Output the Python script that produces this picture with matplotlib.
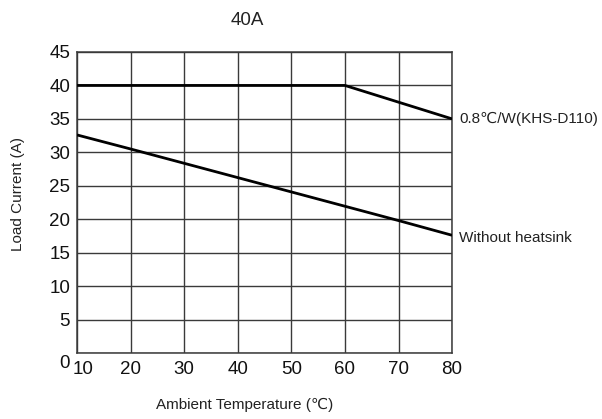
import matplotlib
matplotlib.use("Agg")
import matplotlib.pyplot as plt
import matplotlib.transforms as mtransforms

plt.rcParams['font.family'] = ['Liberation Sans', 'DejaVu Sans']

# data
temp_heatsink = [10, 60, 80]
current_heatsink = [40, 40, 35]
temp_bare = [10, 20, 70, 80]
current_bare = [32.6, 30.5, 19.8, 17.6]

x_ticks = [10, 20, 30, 40, 50, 60, 70, 80]
y_ticks = [0, 5, 10, 15, 20, 25, 30, 35, 40, 45]

fig = plt.figure(figsize=(6.02, 4.19), dpi=100)
ax = fig.add_axes([0.128, 0.1575, 0.623, 0.7184])

ax.plot(temp_heatsink, current_heatsink, color='black', lw=2.0, solid_capstyle='butt', zorder=3)
ax.plot(temp_bare, current_bare, color='black', lw=2.0, solid_capstyle='butt', zorder=3)

ax.set_xlim(10, 80)
ax.set_ylim(0, 45)
ax.set_xticks(x_ticks)
ax.set_yticks(y_ticks)
ax.grid(True, color='#3a3a3a', lw=1.0)
for s in ax.spines.values():
    s.set_color('#3a3a3a')
    s.set_linewidth(1.1)
ax.tick_params(length=0, labelsize=13.5, colors='#111111')
ax.tick_params(axis='x', pad=6)
ax.tick_params(axis='y', pad=5)

# quirky label offsets of the original
xl = ax.get_xticklabels()
xl[0].set_transform(xl[0].get_transform() + mtransforms.ScaledTranslation(6/100, 0, fig.dpi_scale_trans))
yl = ax.get_yticklabels()
yl[0].set_transform(yl[0].get_transform() + mtransforms.ScaledTranslation(0, -8/100, fig.dpi_scale_trans))

ax.annotate('0.8℃/W(KHS-D110)', xy=(80, current_heatsink[-1]), xytext=(5, 0),
            textcoords='offset points', va='center', ha='left', fontsize=11, color='#222222',
            annotation_clip=False)
ax.annotate('Without heatsink', xy=(80, current_bare[-1]), xytext=(5, -2),
            textcoords='offset points', va='center', ha='left', fontsize=11, color='#222222',
            annotation_clip=False)

fig.text(0.41, 0.952, '40A', ha='center', va='center', fontsize=13.5, color='#222222')
fig.text(0.407, 0.033, 'Ambient Temperature (℃)', ha='center', va='center', fontsize=11, color='#222222')
fig.text(0.03, 0.537, 'Load Current (A)', ha='center', va='center', rotation=90, fontsize=11, color='#222222')

fig.savefig('out.png', dpi=100)
